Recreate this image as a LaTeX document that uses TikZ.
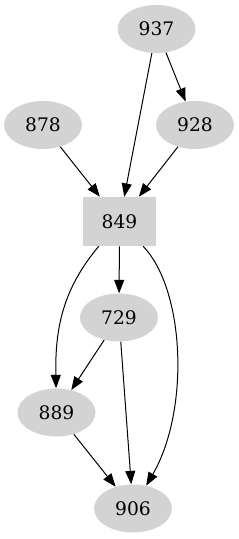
\documentclass[tikz,border=0pt]{standalone}
\usepackage{fontspec}
\setmainfont{DejaVu Serif}
\usepackage{tikz}
\usetikzlibrary{arrows.meta,shapes.geometric}
\definecolor{NodeC}{HTML}{D3D3D3}

\begin{document}
\begin{tikzpicture}[x=0.75pt,y=-0.75pt,font=\fontsize{14}{16}\selectfont,
  oval/.style={ellipse,fill=NodeC,inner sep=0pt,minimum width=58.5pt,minimum height=36pt},
  sqbox/.style={rectangle,fill=NodeC,inner sep=0pt,minimum width=54.75pt,minimum height=36.75pt},
  edge/.style={-{Triangle[length=10pt,width=7.5pt]},line width=.75pt}]
\useasboundingbox (0,0) rectangle (239,539);

% ---------- nodes ----------
\node[oval]  (n937) at (156.5,29)  {937};
\node[oval]  (n878) at (43,125)    {878};
\node[oval]  (n928) at (195,125)   {928};
\node[sqbox] (n849) at (119.5,221.5) {849};
\node[oval]  (n729) at (119,317.5) {729};
\node[oval]  (n889) at (56.5,412.5) {889};
\node[oval]  (n906) at (133,508.5) {906};

% ---------- edges ----------
\draw[edge] (n937) -- (n849);
\draw[edge] (n937) -- (n928);
\draw[edge] (n878) -- (n849);
\draw[edge] (n928) -- (n849);
\draw[edge] (n849) -- (n729);
\draw[edge] (n849) .. controls (62,290) and (55,330) .. (n889);
\draw[edge] (n849) .. controls (185,290) and (190,410) .. (n906);
\draw[edge] (n729) -- (n889);
\draw[edge] (n729) -- (n906);
\draw[edge] (n889) -- (n906);
\end{tikzpicture}
\end{document}
